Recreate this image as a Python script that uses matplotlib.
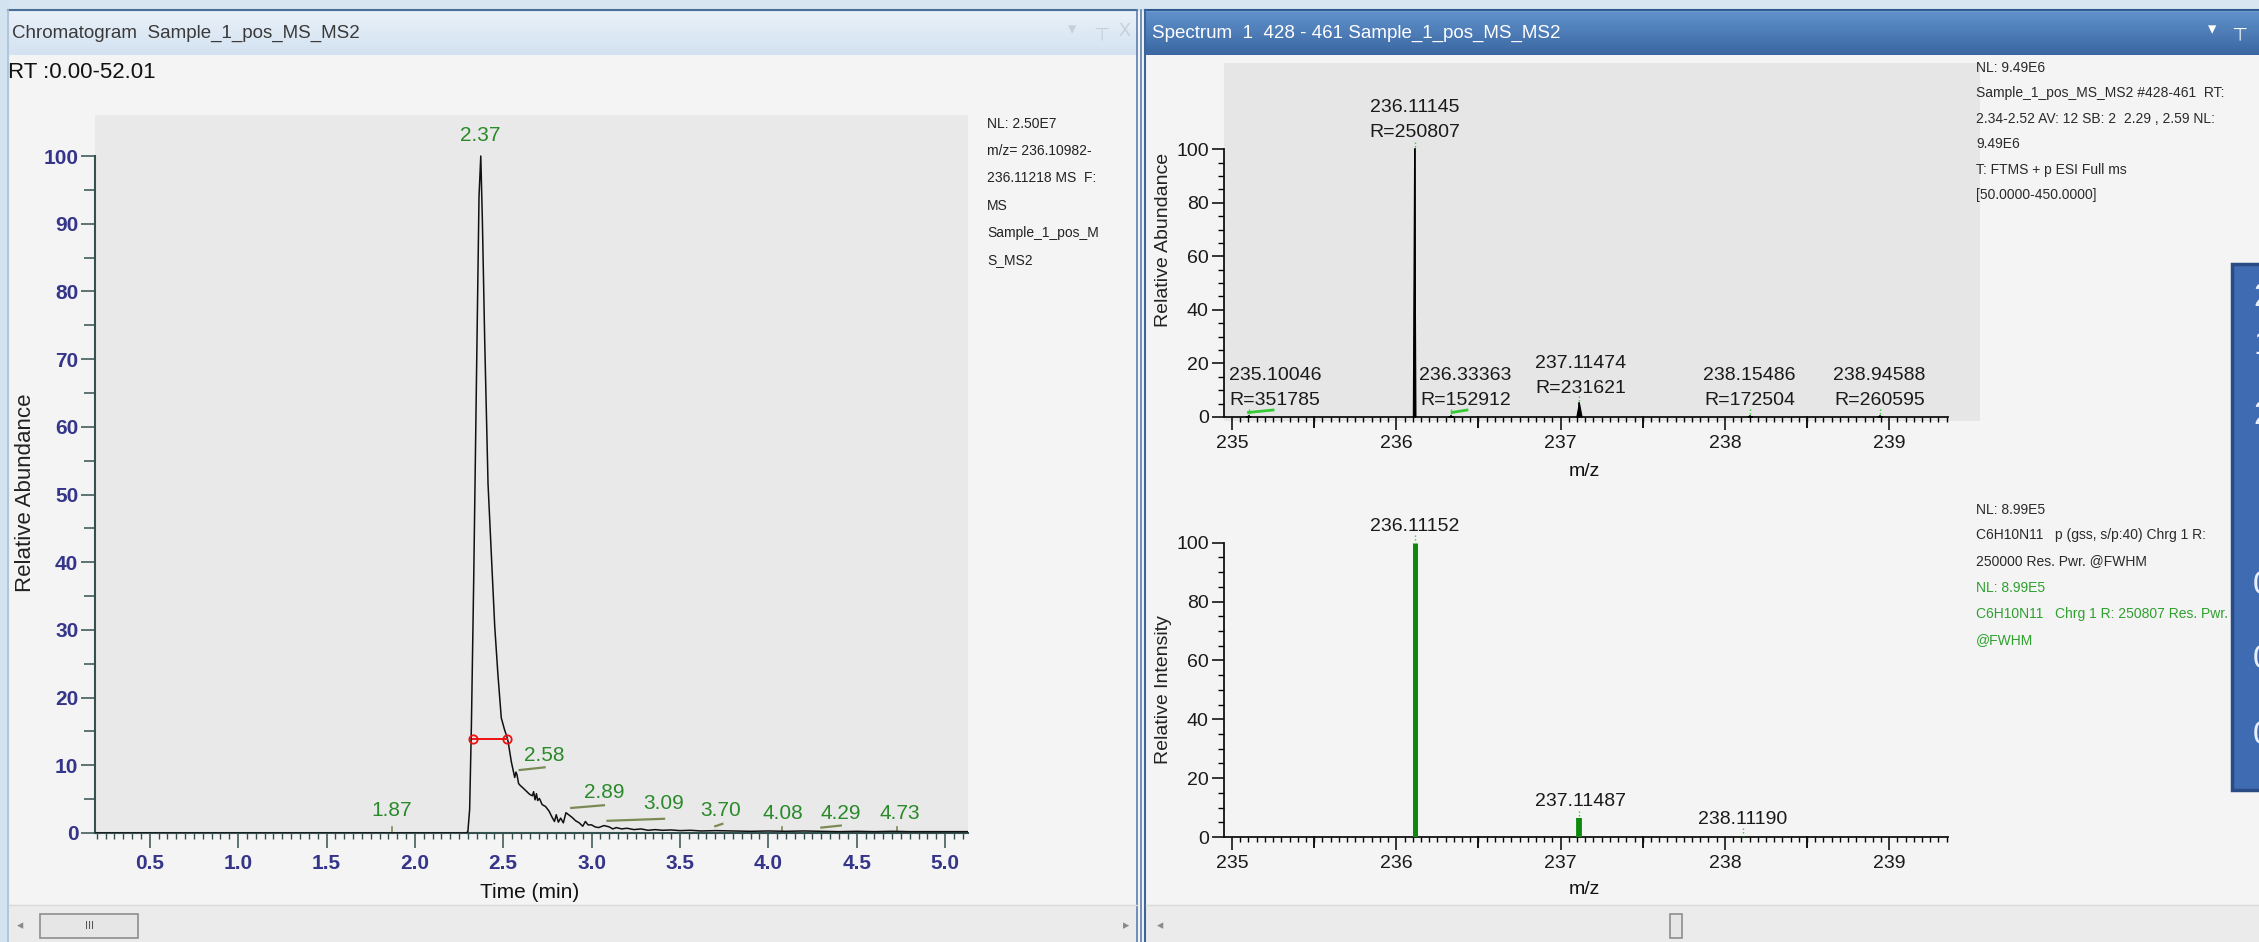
import numpy as np
import matplotlib
matplotlib.use("Agg")
import matplotlib.pyplot as plt
from matplotlib.patches import Rectangle
from matplotlib.lines import Line2D
from matplotlib.colors import LinearSegmentedColormap

plt.rcParams['font.family'] = ['Liberation Sans', 'DejaVu Sans']

# chromatogram trace (time in min, relative abundance)
rt_min = [0.19, 1.0, 2.0, 2.29, 2.30, 2.31, 2.32, 2.333, 2.348, 2.363, 2.373, 2.382, 2.395, 2.414,
          2.433, 2.452, 2.470, 2.489, 2.508, 2.520, 2.527, 2.546, 2.565, 2.572, 2.578, 2.587, 2.597,
          2.610, 2.630, 2.650, 2.665, 2.672, 2.680, 2.688, 2.695, 2.705, 2.720, 2.740, 2.760, 2.775,
          2.790, 2.800, 2.812, 2.825, 2.840, 2.855, 2.870, 2.890, 2.910, 2.930, 2.950, 2.965, 2.980,
          3.000, 3.020, 3.040, 3.070, 3.100, 3.120, 3.140, 3.170, 3.200, 3.240, 3.280, 3.320, 3.360,
          3.400, 3.450, 3.500, 3.560, 3.620, 3.700, 3.800, 3.900, 4.000, 4.100, 4.200, 4.300, 4.400,
          4.500, 4.600, 4.700, 4.800, 4.900, 5.000, 5.130]
rel_ab = [0.0, 0.0, 0.0, 0.0, 0.2, 3.5, 16.0, 37.5, 66.0, 94.0, 100.0, 90.5, 73.0, 51.6,
          41.0, 30.5, 23.4, 17.0, 15.2, 14.3, 13.6, 10.5, 8.2, 9.0, 8.6, 7.3, 7.0,
          6.7, 6.2, 5.7, 5.5, 6.1, 4.9, 5.8, 4.8, 5.1, 4.2, 3.9, 3.2, 2.4,
          1.7, 2.7, 1.6, 2.2, 1.5, 3.0, 2.7, 2.3, 1.8, 1.5, 1.0, 1.7, 1.2,
          1.2, 0.9, 0.8, 1.1, 0.9, 0.6, 0.8, 0.6, 0.7, 0.5, 0.6, 0.4, 0.5,
          0.4, 0.45, 0.35, 0.4, 0.3, 0.35, 0.3, 0.25, 0.3, 0.25, 0.3, 0.25, 0.2,
          0.25, 0.2, 0.25, 0.2, 0.2, 0.2, 0.2]
peak_labels = ["1.87", "2.37", "2.58", "2.89", "3.09", "3.70", "4.08", "4.29", "4.73"]
fwhm_rt = [2.328, 2.520]
fwhm_level = 13.9
chrom_info = ["NL: 2.50E7", "m/z= 236.10982-", "236.11218 MS  F:", "MS", "Sample_1_pos_M", "S_MS2"]

# measured spectrum
mz_top = [235.10046, 236.11145, 236.33363, 237.11474, 238.15486, 238.94588]
ab_top = [0.3, 100.0, 0.3, 5.1, 0.2, 0.2]
res_top = [351785, 250807, 152912, 231621, 172504, 260595]
top_info = ["NL: 9.49E6", "Sample_1_pos_MS_MS2 #428-461  RT:", "2.34-2.52 AV: 12 SB: 2  2.29 , 2.59 NL:",
            "9.49E6", "T: FTMS + p ESI Full ms", "[50.0000-450.0000]"]

# simulated isotope pattern
mz_sim = [236.11152, 237.11487, 238.11190]
int_sim = [100.0, 6.3, 0.5]
sim_info = ["NL: 8.99E5", "C6H10N11   p (gss, s/p:40) Chrg 1 R:", "250000 Res. Pwr. @FWHM"]
sim_info_green = ["NL: 8.99E5", "C6H10N11   Chrg 1 R: 250807 Res. Pwr.", "@FWHM"]

# label placement (layout only)
chrom_lab_pos = [(1.87, 3.3), (2.37, 103.1), (2.73, 11.5), (3.07, 6.0), (3.41, 4.3),
                 (3.73, 3.3), (4.08, 2.9), (4.41, 2.9), (4.745, 2.9)]
chrom_leaders = [((2.593, 9.3), (2.734, 9.7)), ((2.885, 3.7), (3.07, 4.1)), ((3.09, 1.8), (3.41, 2.1)),
                 ((3.70, 1.0), (3.74, 1.35)), ((4.30, 0.8), (4.41, 1.1))]
top_lab_pos = [(235.26, 6.1), (236.11, 106.2), (236.42, 6.1), (237.12, 10.7), (238.15, 6.1), (238.94, 6.1)]
sim_lab_pos = [(236.11, 105.4), (237.12, 12.0), (238.11, 5.8)]

W, H = 2259, 942
fig = plt.figure(figsize=(W / 100, H / 100), dpi=100)
fig.patch.set_facecolor('#f4f4f4')

NAVY = '#35358a'
GREEN = '#2a8a2a'
LGREEN = '#2ea02e'


def add_ax(l, t, r, b):
    return fig.add_axes([l / W, 1 - b / H, (r - l) / W, (b - t) / H])


def rect(l, t, r, b, **kw):
    fig.add_artist(Rectangle((l / W, 1 - b / H), (r - l) / W, (b - t) / H,
                             transform=fig.transFigure, **kw))


def line(x0, y0, x1, y1, **kw):
    fig.add_artist(Line2D([x0 / W, x1 / W], [1 - y0 / H, 1 - y1 / H], transform=fig.transFigure, **kw))


def ftext(x, y, s, **kw):
    kw.setdefault('va', 'center')
    fig.text(x / W, 1 - y / H, s, **kw)


def gradient(l, t, r, b, c0, c1):
    ax = add_ax(l, t, r, b)
    ax.axis('off')
    cm = LinearSegmentedColormap.from_list('g', [c0, c1])
    ax.imshow(np.linspace(0, 1, 64).reshape(-1, 1), aspect='auto', cmap=cm, extent=(0, 1, 0, 1))


# window frame
rect(0, 0, W, 10, color='#d8e6f1')
rect(0, 0, 8, H, color='#d3e3ef')
gradient(8, 10, 1137, 55, '#eaf1f9', '#d3e2f1')
gradient(1145, 10, W, 55, '#6192cc', '#3a67a2')
line(8, 10, 1137, 10, color='#4b6f98', lw=1.5)
line(1145, 10, W, 10, color='#2f5a8f', lw=1.5)
line(8, 10, 8, H, color='#a9c2d8', lw=1.2)
line(1137, 10, 1137, H, color='#5b7fad', lw=1.2)
line(1141, 10, 1141, H, color='#5b7fad', lw=1.2)
line(1145, 10, 1145, H, color='#3a649a', lw=1.5)

ftext(12, 33, 'Chromatogram  Sample_1_pos_MS_MS2', fontsize=13.5, color='#3a3a3a')
ftext(1072, 30, '▾', fontsize=12, color='#c5cfd9', ha='center')
ftext(1100, 31, '⊥', fontsize=13, color='#c5cfd9', ha='center', rotation=180)
ftext(1125, 32, 'X', fontsize=13, color='#c5cfd9', ha='center')
ftext(1152, 33, 'Spectrum  1  428 - 461 Sample_1_pos_MS_MS2', fontsize=13.5, color='white')
ftext(2212, 30, '▾', fontsize=12, color='white', ha='center')
ftext(2238, 31, '⊥', fontsize=13, color='white', ha='center', rotation=180)

# scroll bars
rect(9, 905, 1137, H, color='#ebebeb')
line(9, 905, 1137, 905, color='#dadada', lw=1)
rect(40, 914, 138, 938, facecolor='#e6e6e6', edgecolor='#8e8e8e', lw=1.2)
ftext(89, 926, 'III', fontsize=8, color='#555555', ha='center')
ftext(20, 926, '◂', fontsize=9, color='#8a8a8a', ha='center')
ftext(1126, 926, '▸', fontsize=9, color='#8a8a8a', ha='center')
rect(1146, 905, W, H, color='#ebebeb')
line(1146, 905, W, 905, color='#dadada', lw=1)
rect(1670, 914, 1682, 938, facecolor='#e6e6e6', edgecolor='#8e8e8e', lw=1.2)
ftext(1160, 926, '◂', fontsize=9, color='#8a8a8a', ha='center')

ftext(8, 73, 'RT :0.00-52.01', fontsize=16, color='#111111')

# ---- chromatogram ----
ax1 = add_ax(95, 115, 968, 833)
ax1.set_facecolor('#e9e9e9')
ax1.plot(rt_min, rel_ab, color='#111111', lw=1.1, zorder=3)
ax1.plot(fwhm_rt, [fwhm_level, fwhm_level], color='#ee1111', lw=1.4, marker='o', ms=6,
         mfc='none', mec='#ee1111', mew=1.3, zorder=4)
ax1.set_xlim(0.19, 5.13)
ax1.set_ylim(0, 106.06)
for s in ['top', 'right']:
    ax1.spines[s].set_visible(False)
for s in ['left', 'bottom']:
    ax1.spines[s].set_color('#34504f')
    ax1.spines[s].set_linewidth(1.5)
ax1.spines['left'].set_bounds(0, 100)
ax1.set_yticks(np.arange(0, 101, 10))
ax1.set_yticks(np.arange(5, 100, 10), minor=True)
ax1.set_xticks(np.arange(0.5, 5.01, 0.5))
ax1.set_xticks(np.arange(0.2, 5.13, 0.05), minor=True)
ax1.set_xticklabels([f'{v:.1f}' for v in np.arange(0.5, 5.01, 0.5)])
ax1.tick_params(axis='y', which='major', length=10, width=1.1, color='#34504f', pad=2,
                labelsize=15, labelcolor=NAVY)
ax1.tick_params(axis='y', which='minor', length=8, width=1.1, color='#34504f')
ax1.tick_params(axis='x', which='major', length=11, width=1.1, color='#34504f', pad=4,
                labelsize=15, labelcolor=NAVY)
ax1.tick_params(axis='x', which='minor', length=4.5, width=1.0, color='#34504f')
for lab in ax1.get_xticklabels() + ax1.get_yticklabels():
    lab.set_fontweight('bold')

for txt, (x, y) in zip(peak_labels, chrom_lab_pos):
    ax1.text(x, y, txt, ha='center', va='center', fontsize=15, color=GREEN)
for (p0, p1) in chrom_leaders:
    ax1.plot([p0[0], p1[0]], [p0[1], p1[1]], color='#7b8a55', lw=1.6)
for t in [1.87, 4.08, 4.73]:
    ax1.plot([t, t], [0.3, 0.9], color='#7b8a55', lw=1.2)

ftext(26, 493, 'Relative Abundance', fontsize=16, rotation=90, ha='center', color='#222222')
ftext(530, 893, 'Time (min)', fontsize=15, ha='center', color='#111111')
for i, s in enumerate(chrom_info):
    ftext(987, 124 + 27.2 * i, s, fontsize=10, color='#222222')


def spectrum_axes(ax, top_px, bottom_px, bottom_pos):
    ax.set_xlim(234.951, 239.553)
    for s in ['top', 'right']:
        ax.spines[s].set_visible(False)
    for s in ['left', 'bottom']:
        ax.spines[s].set_color('#111111')
        ax.spines[s].set_linewidth(1.3)
    ax.spines['left'].set_bounds(0, 100)
    ax.spines['bottom'].set_bounds(234.951, 239.36)
    if bottom_pos:
        ax.spines['bottom'].set_position(('data', 0))
    ax.set_yticks(np.arange(0, 101, 20))
    ax.set_yticks(np.arange(5, 100, 5), minor=True)
    ax.set_xticks(np.arange(235, 239.5, 1.0))
    ax.set_xticks(np.arange(235.0, 239.36, 0.05), minor=True)
    ax.set_xticklabels([str(int(v)) for v in np.arange(235, 239.5, 1.0)])
    ax.tick_params(axis='y', which='major', length=9, width=1.1, pad=2, labelsize=14, labelcolor='#1a1a1a')
    ax.tick_params(axis='y', which='minor', length=4, width=1.0)
    ax.tick_params(axis='x', which='major', length=9, width=1.1, pad=4, labelsize=14, labelcolor='#1a1a1a')
    ax.tick_params(axis='x', which='minor', length=3.5, width=1.0)
    # half-unit ticks, a little longer than the minor ones
    y0, y1 = ax.get_ylim()
    per_px = (y1 - y0) / (bottom_px - top_px)
    for m in np.arange(235.5, 239.4, 1.0):
        ax.plot([m, m], [0, -10 * per_px], color='#111111', lw=1.4, clip_on=False)


# ---- measured spectrum ----
ax2 = add_ax(1224, 63, 1980, 421)
ax2.set_facecolor('#e6e6e6')
ax2.set_ylim(-1.5, 132.2)
spectrum_axes(ax2, 63, 421, True)
for m, h in zip(mz_top, ab_top):
    hw = 0.008 if h > 50 else 0.016
    ax2.fill([m - hw, m, m + hw], [0, h, 0], color='#000000', lw=0.8, zorder=3)
    ax2.plot([m, m], [0, h], color='#000000', lw=1.2, zorder=3)
for m, h, r, (lx, ly) in zip(mz_top, ab_top, res_top, top_lab_pos):
    ax2.text(lx, ly, f'R={r}', ha='center', va='center', fontsize=14, color='#1a1a1a')
    ax2.text(lx, ly + 9.3, f'{m:.5f}', ha='center', va='center', fontsize=14, color='#1a1a1a')
    ax2.plot([m, m], [h + 0.8, h + 2.6], color='#33cc33', lw=1, ls=':')
ax2.plot([235.10, 235.25], [1.7, 2.6], color='#33cc33', lw=2)
ax2.plot([236.34, 236.43], [1.7, 2.6], color='#33cc33', lw=2)

ftext(1163, 240, 'Relative Abundance', fontsize=14, rotation=90, ha='center', color='#222222')
ftext(1584, 472, 'm/z', fontsize=14, ha='center', color='#111111')
for i, s in enumerate(top_info):
    ftext(1976, 68 + 25.4 * i, s, fontsize=10, color='#2a2a2a')

# ---- simulated spectrum ----
ax3 = add_ax(1224, 510, 1980, 837)
ax3.set_facecolor('none')
ax3.set_ylim(0, 111.1)
spectrum_axes(ax3, 510, 837, False)
ax3.vlines(mz_sim, 0, int_sim, color='#0d8a0d', lw=[3.6, 4.2, 2.0], zorder=3)
for m, h, (lx, ly) in zip(mz_sim, int_sim, sim_lab_pos):
    ax3.text(lx, ly, f'{m:.5f}', ha='center', va='center', fontsize=14, color='#1a1a1a')
    ax3.plot([m, m], [h + 0.8, h + 2.6], color='#33cc33', lw=1, ls=':')

ftext(1163, 690, 'Relative Intensity', fontsize=14, rotation=90, ha='center', color='#222222')
ftext(1584, 890, 'm/z', fontsize=14, ha='center', color='#111111')
for i, s in enumerate(sim_info):
    ftext(1976, 510 + 25.5 * i, s, fontsize=10, color='#2a2a2a')
for i, s in enumerate(sim_info_green):
    ftext(1976, 588 + 26 * i, s, fontsize=10, color=LGREEN)

# overlapping slide box on the right edge, its text runs past the screenshot border
fig.add_artist(Rectangle((2232 / W, 1 - 790 / H), 40 / W, (790 - 264) / H, transform=fig.transFigure,
                         facecolor='#3f6bb2', edgecolor='#2a4c85', lw=2.5, zorder=5))
for y, s in zip([298, 345, 415, 585, 660, 735], ['2', '1', '2', '0', '0', '0']):
    fig.text(2253 / W, 1 - y / H, s, fontsize=24, color='#e9eef7', va='center', zorder=6)

fig.savefig('out.png', dpi=100, facecolor=fig.get_facecolor())
